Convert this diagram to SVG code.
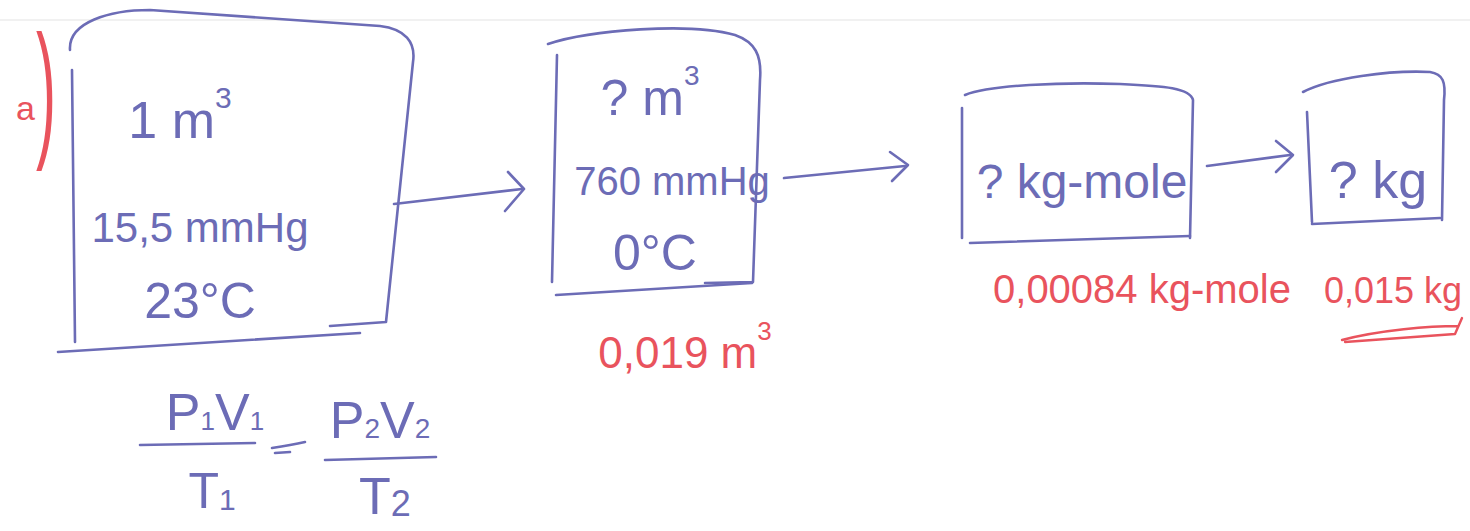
<svg xmlns="http://www.w3.org/2000/svg" width="1470" height="531" viewBox="0 0 1470 531">
<style>
.b{fill:none;stroke:#6c6cb6;stroke-width:2.6;stroke-linecap:round;stroke-linejoin:round}
.r{fill:none;stroke:#e9535d;stroke-width:2.4;stroke-linecap:round;stroke-linejoin:round}
.tb{fill:#6c6cb6;font-family:"Liberation Sans",Arial,sans-serif}
.tr{fill:#e9535d;font-family:"Liberation Sans",Arial,sans-serif}
</style>
<rect width="1470" height="531" fill="#ffffff"/>
<line x1="0" y1="20" x2="1470" y2="20" stroke="#ededed" stroke-width="1.5"/>

<g id="label-a">
<text class="tr" x="16" y="120" font-size="34">a</text>
<text class="tr" transform="translate(36,140) scale(0.4,1)" font-size="150">)</text>
</g>

<g id="box1">
<path class="b" d="M70,50 C68,22 110,10 150,10 L380,26 C405,29 416,42 413,62 L386,322 L330,326"/>
<path class="b" d="M72,70 L75,342"/>
<path class="b" d="M58,352 L360,333"/>
<text class="tb" x="180" y="138" font-size="52" text-anchor="middle">1 m<tspan font-size="30" dy="-30">3</tspan></text>
<text class="tb" x="200" y="242" font-size="42" text-anchor="middle">15,5 mmHg</text>
<text class="tb" x="200" y="318" font-size="50" text-anchor="middle">23°C</text>
</g>

<g id="box2">
<path class="b" d="M548,44 C590,30 690,22 735,35 C755,42 762,55 760,80 L753,282 L705,283"/>
<path class="b" d="M557,55 L552,282"/>
<path class="b" d="M556,295 L752,283"/>
<text class="tb" x="650" y="115" font-size="50" text-anchor="middle">? m<tspan font-size="28" dy="-30">3</tspan></text>
<text class="tb" x="672" y="195" font-size="40" text-anchor="middle">760 mmHg</text>
<text class="tb" x="655" y="270" font-size="50" text-anchor="middle">0°C</text>
</g>
<g id="result2">
<text class="tr" x="685" y="368" font-size="44" text-anchor="middle">0,019 m<tspan font-size="26" dy="-28">3</tspan></text>
</g>

<g id="box3">
<path class="b" d="M965,95 C990,85 1060,82 1120,84 C1165,86 1190,88 1193,100 L1190,238"/>
<path class="b" d="M962,108 L962,238"/>
<path class="b" d="M970,243 L1190,236"/>
<text class="tb" x="1082" y="198" font-size="48" text-anchor="middle">? kg-mole</text>
</g>
<g id="result3">
<text class="tr" x="1142" y="303" font-size="40" text-anchor="middle">0,00084 kg-mole</text>
</g>

<g id="box4">
<path class="b" d="M1303,92 C1330,78 1390,70 1430,72 C1443,74 1446,82 1444,100 L1442,220"/>
<path class="b" d="M1307,112 L1312,222"/>
<path class="b" d="M1312,224 L1440,218"/>
<text class="tb" x="1378" y="198" font-size="52" text-anchor="middle">? kg</text>
</g>
<g id="result4">
<text class="tr" x="1462" y="303" font-size="36" text-anchor="end">0,015 kg</text>
<path class="r" d="M1342,340 C1380,330 1430,326 1458,326 M1345,342 L1455,334 L1462,318"/>
</g>

<g id="formula">
<text class="tb" x="215" y="430" font-size="52" text-anchor="middle">P<tspan font-size="26">1</tspan>V<tspan font-size="26">1</tspan></text>
<path class="b" d="M140,445 L255,443"/>
<text class="tb" x="212" y="508" font-size="50" text-anchor="middle">T<tspan font-size="30" dy="2">1</tspan></text>
<path class="b" d="M272,448 C285,446 296,444 305,442"/>
<path class="b" d="M275,453 L290,452"/>
<text class="tb" x="380" y="438" font-size="52" text-anchor="middle">P<tspan font-size="28">2</tspan>V<tspan font-size="28">2</tspan></text>
<path class="b" d="M325,460 L436,457"/>
<text class="tb" x="385" y="514" font-size="52" text-anchor="middle">T<tspan font-size="36" dy="2">2</tspan></text>
</g>

<g id="connectors">
<path class="b" d="M394,204 L522,189"/>
<path class="b" d="M508,172 L524,189 L505,211"/>
<path class="b" d="M784,178 L905,166"/>
<path class="b" d="M890,152 L908,165 L892,181"/>
<path class="b" d="M1207,166 L1290,155"/>
<path class="b" d="M1276,141 L1293,155 L1276,172"/>
</g>
</svg>
